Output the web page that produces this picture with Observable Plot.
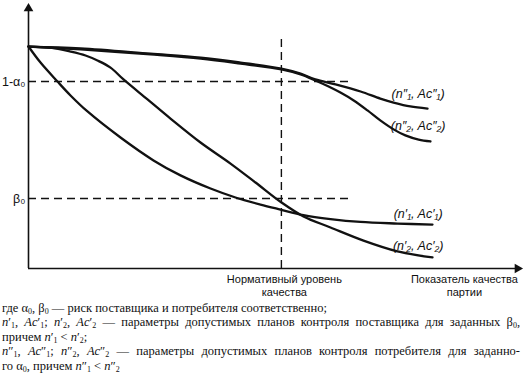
<!DOCTYPE html>
<html>
<head>
<meta charset="utf-8">
<script src="https://cdn.jsdelivr.net/npm/d3@7"></script>
<script src="https://cdn.jsdelivr.net/npm/@observablehq/plot@0.6"></script>
<style>
  html, body { margin: 0; padding: 0; background: #fff; }
  #chart { width: 525px; height: 300px; }
  #caption { font-family: "Liberation Serif", "Times New Roman", "DejaVu Serif", "Noto Serif", serif; font-size: 12.5px; line-height: 14.4px; color: #111; width: 518px; margin-left: 2px; padding-top: 1px; }
  #caption div { white-space: nowrap; }
  #caption div.j { text-align: justify; text-align-last: justify; white-space: normal; }
  #caption sub { font-size: 8px; line-height: 0; vertical-align: -2px; }
  #caption i { font-style: italic; }
</style>
</head>
<body>
<div id="chart"></div>
<div id="caption">
  <div>где α<sub>0</sub>, β<sub>0</sub> — риск поставщика и потребителя соответственно;</div>
  <div class="j"><i>n</i>′<sub>1</sub>, <i>Ac</i>′<sub>1</sub>; <i>n</i>′<sub>2</sub>, <i>Ac</i>′<sub>2</sub> — параметры допустимых планов контроля поставщика для заданных β<sub>0</sub>,</div>
  <div>причем <i>n</i>′<sub>1</sub> &lt; <i>n</i>′<sub>2</sub>;</div>
  <div class="j"><i>n</i>″<sub>1</sub>, <i>Ac</i>″<sub>1</sub>; <i>n</i>″<sub>2</sub>, <i>Ac</i>″<sub>2</sub> — параметры допустимых планов контроля потребителя для заданно-</div>
  <div>го α<sub>0</sub>, причем <i>n</i>″<sub>1</sub> &lt; <i>n</i>″<sub>2</sub></div>
</div>
<script>
// ---- Data (x: quality indicator, 0..100; y: probability of acceptance, 0..1) ----
const seriesNames = ["(n″₁, Ac″₁)", "(n″₂, Ac″₂)", "(n′₁, Ac′₁)", "(n′₂, Ac′₂)"];

const qualityConsumer1 = [0, 10.6, 24.8, 35.0, 43.1, 51.4, 55.3, 58.3, 62.4, 67.5, 71.5, 74.2, 77.6, 81.1];
const acceptConsumer1  = [0.844, 0.837, 0.817, 0.802, 0.783, 0.760, 0.741, 0.719, 0.700, 0.673, 0.646, 0.631, 0.616, 0.608];

const qualityConsumer2 = [0, 10.6, 24.8, 35.0, 43.1, 51.4, 55.3, 58.3, 61.0, 63.4, 66.1, 68.9, 71.5, 74.2, 76.6, 79.3, 81.7];
const acceptConsumer2  = [0.844, 0.833, 0.814, 0.798, 0.779, 0.757, 0.738, 0.715, 0.692, 0.669, 0.639, 0.601, 0.563, 0.529, 0.506, 0.490, 0.483];

const qualitySupplier1 = [0, 2.44, 5.89, 8.54, 11.99, 18.70, 25.41, 30.89, 37.0, 42.07, 47.15, 51.22, 55.89, 61.38, 67.48, 75.0, 82.11];
const acceptSupplier1  = [0.844, 0.783, 0.711, 0.658, 0.597, 0.498, 0.411, 0.354, 0.304, 0.270, 0.243, 0.224, 0.203, 0.188, 0.177, 0.171, 0.167];

const qualitySupplier2 = [0, 4.47, 8.54, 11.59, 14.02, 16.67, 19.31, 24.19, 28.86, 34.96, 41.06, 46.14, 51.42, 55.89, 61.38, 68.09, 75.0, 82.11];
const acceptSupplier2  = [0.844, 0.840, 0.825, 0.810, 0.791, 0.764, 0.719, 0.643, 0.570, 0.479, 0.399, 0.327, 0.251, 0.198, 0.156, 0.106, 0.065, 0.042];

// reference levels
const riskLevelNames = ["1-α₀", "β₀"];
const riskLevelValues = [0.711, 0.266];
const riskLevelExtent = 65.4;          // dashed guides end here on x
const normativeQuality = 51.4;          // normative quality level on x
const normativeTop = 0.886;             // vertical dashed line top
const xAxisTitle = "Показатель качества\nпартии";
const xAxisTitlePos = 88.6;
const normativeTitle = "Нормативный уровень\nкачества";

// label positions for the curves (x, y in data units)
const labelX = [79.2, 79.2, 79.2, 79.2];
const labelY = [0.665, 0.543, 0.209, 0.087];

// ---- Build tables ----
const curves = [
  [qualityConsumer1, acceptConsumer1],
  [qualityConsumer2, acceptConsumer2],
  [qualitySupplier1, acceptSupplier1],
  [qualitySupplier2, acceptSupplier2]
].flatMap(([xs, ys], i) => xs.map((x, j) => ({series: seriesNames[i], x, y: ys[j]})));

const levels = riskLevelNames.map((name, i) => ({name, y: riskLevelValues[i]}));
const curveLabels = seriesNames.map((s, i) => ({s, x: labelX[i], y: labelY[i]}));

const plot = Plot.plot({
  width: 525,
  height: 300,
  marginLeft: 28,
  marginRight: 5,
  marginTop: 5,
  marginBottom: 32,
  x: {domain: [0, 100], axis: null},
  y: {domain: [0, 1], axis: null},
  style: {fontFamily: "Liberation Sans, Arial, sans-serif", background: "white"},
  marks: [
    // dashed guides
    Plot.ruleY(levels, {y: "y", x1: 0, x2: riskLevelExtent, stroke: "#111", strokeWidth: 1.4, strokeDasharray: "8,5"}),
    Plot.ruleX([normativeQuality], {y1: 0, y2: normativeTop, stroke: "#111", strokeWidth: 1.4, strokeDasharray: "8,5"}),
    // axes
    Plot.ruleX([0], {y1: 0, y2: 0.99, stroke: "#111", strokeWidth: 1.6}),
    Plot.ruleY([0], {x1: 0, x2: 99.5, stroke: "#111", strokeWidth: 1.6}),
    Plot.dot([{x: 0, y: 1}], {x: "x", y: "y", symbol: "triangle", r: 3.6, fill: "#111", stroke: null, dy: 3}),
    Plot.dot([{x: 100, y: 0}], {x: "x", y: "y", symbol: "triangle", r: 3.6, fill: "#111", stroke: null, rotate: 90, dx: -3}),
    // curves
    Plot.line(curves, {x: "x", y: "y", z: "series", curve: "catmull-rom", stroke: "#111", strokeWidth: 2.3}),
    // level labels
    Plot.text(levels, {x: 0, y: "y", text: "name", textAnchor: "end", dx: -3, fontSize: 12.5, fill: "#111"}),
    // x labels
    Plot.text([normativeTitle], {x: normativeQuality, y: 0, text: d => d, lineAnchor: "top", dy: 6, dx: 3, fontSize: 11, lineHeight: 1.15, fill: "#111"}),
    Plot.text([xAxisTitle], {x: xAxisTitlePos, y: 0, text: d => d, lineAnchor: "top", dy: 6, fontSize: 11, lineHeight: 1.15, fill: "#111"}),
    // curve labels
    Plot.text(curveLabels, {x: "x", y: "y", text: "s", textAnchor: "middle", fontSize: 12.5, fontStyle: "italic", fill: "#111"})
  ]
});
document.getElementById("chart").appendChild(plot);
</script>
</body>
</html>
